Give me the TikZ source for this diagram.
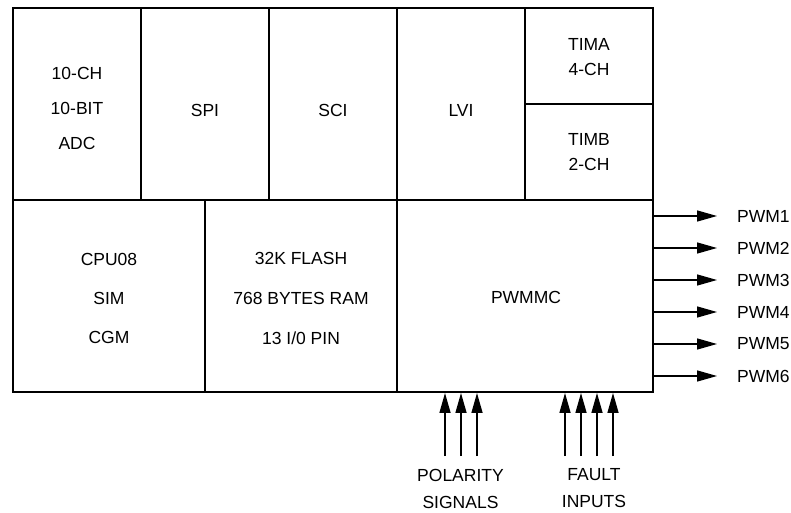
\documentclass[tikz,border=0pt]{standalone}
\usepackage{fontspec}
\setmainfont{Liberation Sans}
\usetikzlibrary{arrows.meta}
\begin{document}
\begin{tikzpicture}[x=1pt,y=-1pt,
  cell/.style={draw,line width=1.9pt,inner sep=0pt},
  lbl/.style={inner sep=0pt,align=center,font=\fontsize{17.5}{35}\selectfont},
  arr/.style={line width=1.4pt,-{Triangle[length=20pt,width=11pt]}}]
\useasboundingbox (0,0) rectangle (791,512);
% top row
\node[cell,minimum width=128pt,minimum height=192pt] (adc) at (77,104) {};
\node[cell,minimum width=128pt,minimum height=192pt] (spi) at (205,104) {};
\node[cell,minimum width=128pt,minimum height=192pt] (sci) at (333,104) {};
\node[cell,minimum width=128pt,minimum height=192pt] (lvi) at (461,104) {};
\node[cell,minimum width=128pt,minimum height=96pt] (tima) at (589,56) {};
\node[cell,minimum width=128pt,minimum height=96pt] (timb) at (589,152) {};
% bottom row
\node[cell,minimum width=192pt,minimum height=192pt] (cpu) at (109,296) {};
\node[cell,minimum width=192pt,minimum height=192pt] (mem) at (301,296) {};
\node[cell,minimum width=256pt,minimum height=192pt] (pwmmc) at (525,296) {};
% texts
\node[lbl] (adct) at (77,108) {10-CH\\10-BIT\\ADC};
\node[lbl] (spit) at (205,110) {SPI};
\node[lbl] (scit) at (333,110) {SCI};
\node[lbl] (lvit) at (461,110) {LVI};
\node[lbl,font=\fontsize{17.5}{25}\selectfont] (timat) at (589,57.5) {TIMA\\4-CH};
\node[lbl,font=\fontsize{17.5}{25}\selectfont] (timbt) at (589,152.5) {TIMB\\2-CH};
\node[lbl,font=\fontsize{17.5}{39}\selectfont] (cput) at (109,298) {CPU08\\SIM\\CGM};
\node[lbl,font=\fontsize{17.5}{40}\selectfont] (memt) at (301,298) {32K FLASH\\768 BYTES RAM\\13 I/0 PIN};
\node[lbl] (pwmt) at (526,297) {PWMMC};
% PWM outputs
\foreach \i/\yy in {1/216,2/248,3/280,4/312,5/344,6/376}{
  \node[lbl,anchor=west] (pwm\i) at (737,\yy) {PWM\i};
  \draw[arr] (pwmmc.east |- pwm\i.west) -- ([xshift=-20pt]pwm\i.west);
}
% bottom inputs
\node[lbl,font=\fontsize{17.5}{27}\selectfont] (pol) at (460.5,488.5) {POLARITY\\SIGNALS};
\node[lbl,font=\fontsize{17.5}{27}\selectfont] (flt) at (594,488.5) {FAULT\\INPUTS};
\foreach \n/\xx in {pa/445,pb/461,pc/477,fa/565,fb/581,fc/597,fd/613}{
  \coordinate (\n) at (\xx,456);
  \draw[arr] (\n) -- (\n |- pwmmc.south);
}
\end{tikzpicture}
\end{document}
